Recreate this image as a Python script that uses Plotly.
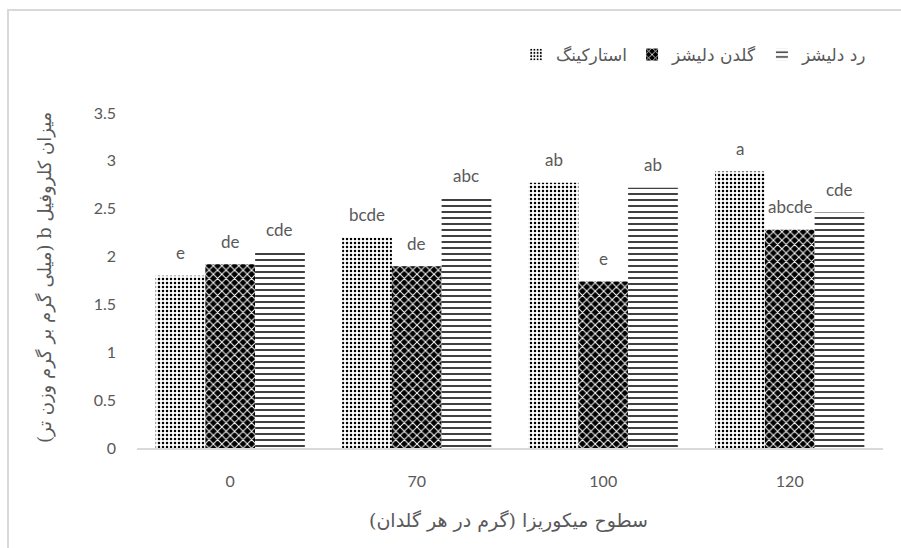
import plotly.graph_objects as go

categories = ["0", "70", "100", "120"]
series_names = ["استارکینگ", "گلدن دلیشز", "رد دلیشز"]
starking = [1.80, 2.20, 2.77, 2.89]
golden = [1.92, 1.90, 1.74, 2.28]
red = [2.04, 2.61, 2.72, 2.46]
letters_starking = ["e", "bcde", "ab", "a"]
letters_golden = ["de", "de", "e", "abcde"]
letters_red = ["cde", "abc", "ab", "cde"]
y_ticks = [0, 0.5, 1, 1.5, 2, 2.5, 3, 3.5]
y_tick_text = ["0", "0.5", "1", "1.5", "2", "2.5", "3", "3.5"]
x_title = "سطوح میکوریزا (گرم در هر گلدان)"
y_title = "میزان کلروفیل b (میلی گرم بر گرم وزن تر)"

series = [starking, golden, red]
letters = [letters_starking, letters_golden, letters_red]
patterns = [
    dict(shape=".", fgcolor="#000000", bgcolor="#ffffff", fgopacity=1, size=4, solidity=0.3),
    dict(shape="x", fgcolor="#ffffff", bgcolor="#000000", fgopacity=1, size=6, solidity=0.3),
    dict(shape="-", fgcolor="#000000", bgcolor="#ffffff", fgopacity=1, size=6, solidity=0.25),
]

W, H = 901, 548
L, R, T, B = 137, 18, 113, 100
plot_w = W - L - R
plot_h = H - T - B
px_to_x = lambda p: (p - L) / plot_w
py_to_y = lambda p: (H - B - p) / plot_h
RLE, PDF = "\u202b", "\u202c"

fig = go.Figure()
for name, vals, pat in zip(series_names, series, patterns):
    fig.add_trace(go.Bar(
        x=categories, y=vals, name=name,
        marker=dict(color=pat["bgcolor"], line=dict(width=0), pattern=pat),
    ))

bargap = 0.2
cat_px = plot_w / len(categories)
bar_px = cat_px * (1 - bargap) / 3
annotations = []
for i, (vals, labs) in enumerate(zip(series, letters)):
    offset = (i - 1) * bar_px
    for ci, (v, t) in enumerate(zip(vals, labs)):
        # on a category axis annotation x is the category's serial index
        annotations.append(dict(
            x=ci, y=v, text=t, showarrow=False, xshift=offset, yshift=23,
            yanchor="middle", font=dict(family="Lato, Open Sans, sans-serif", size=17, color="#595959"),
        ))

annotations.append(dict(
    xref="paper", yref="paper", x=px_to_x(45), y=py_to_y(278), text=RLE + y_title + PDF,
    textangle=-90, showarrow=False, xanchor="center", yanchor="middle",
    font=dict(family="DejaVu Serif, DejaVu Sans, serif", size=18, color="#595959"),
))
annotations.append(dict(
    xref="paper", yref="paper", x=px_to_x(508), y=py_to_y(520), text=RLE + x_title + PDF,
    showarrow=False, xanchor="center", yanchor="middle",
    font=dict(family="DejaVu Serif, DejaVu Sans, serif", size=19, color="#595959"),
))

shapes = [
    dict(type="line", xref="paper", yref="paper", x0=px_to_x(8), x1=px_to_x(8),
         y0=py_to_y(548), y1=py_to_y(10), line=dict(color="#d9d9d9", width=2)),
    dict(type="line", xref="paper", yref="paper", x0=px_to_x(7), x1=px_to_x(901),
         y0=py_to_y(10), y1=py_to_y(10), line=dict(color="#d9d9d9", width=2)),
]

fig.update_layout(
    width=W, height=H,
    margin=dict(l=L, r=R, t=T, b=B, autoexpand=False),
    paper_bgcolor="#ffffff", plot_bgcolor="#ffffff",
    barmode="group", bargap=bargap, bargroupgap=0,
    annotations=annotations, shapes=shapes,
    showlegend=True,
    legend=dict(orientation="h", x=px_to_x(872), xanchor="right", y=py_to_y(55), yanchor="middle",
                font=dict(family="DejaVu Serif, DejaVu Sans, serif", size=17, color="#595959"),
                itemwidth=30, bgcolor="rgba(0,0,0,0)"),
    xaxis=dict(type="category", categoryorder="array", categoryarray=categories,
               showline=True, linecolor="#d9d9d9", linewidth=1.5, showgrid=False,
               ticks="", automargin=False,
               tickfont=dict(family="Lato, Open Sans, sans-serif", size=16, color="#595959"),
               ticklabelstandoff=18),
    yaxis=dict(range=[0, 3.5], tickvals=y_ticks, ticktext=y_tick_text, showgrid=False,
               showline=False, zeroline=False, ticks="", automargin=False,
               tickfont=dict(family="Lato, Open Sans, sans-serif", size=16, color="#595959"),
               ticklabelstandoff=20),
)

fig.write_html("out.html", config={"displayModeBar": False},
               post_script="document.body.style.margin='0';document.body.style.overflow='hidden';")
